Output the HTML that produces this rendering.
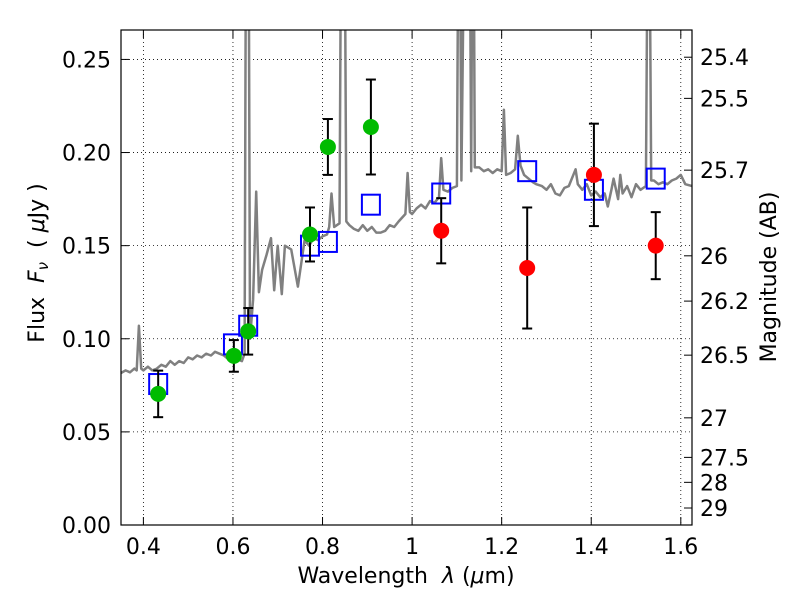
<!DOCTYPE html>
<html><head><meta charset="utf-8"><style>
body{margin:0;background:#fff}
svg{font-family:"DejaVu Sans","Liberation Sans",sans-serif;display:block}
text{white-space:pre}
</style></head><body>
<svg id="c" width="800" height="600" xmlns="http://www.w3.org/2000/svg">
<text x="406" y="583" font-size="22" text-anchor="middle">Wavelength&#160;&#160;<tspan font-style="italic">λ</tspan> (<tspan font-style="italic">μ</tspan>m)</text>
<text transform="translate(44,263) rotate(-90)" font-size="22" text-anchor="middle">Flux&#160;&#160;<tspan font-style="italic">F</tspan><tspan font-style="italic" font-size="15" dy="4">ν</tspan><tspan dy="-4">&#160;&#160;(&#160;</tspan><tspan font-style="italic">μ</tspan>Jy )</text>
<text transform="translate(776,277) rotate(-90)" font-size="22" text-anchor="middle">Magnitude (AB)</text>
</svg>
<script>
const xTicks=[0.4,0.6,0.8,1.0,1.2,1.4,1.6];
const xTickLabels=["0.4","0.6","0.8","1","1.2","1.4","1.6"];
const yTicks=[0,0.05,0.10,0.15,0.20,0.25];
const yTickLabels=["0.00","0.05","0.10","0.15","0.20","0.25"];
const magTicks=[25.4,25.5,25.7,26,26.2,26.5,27,27.5,28,29];
const magLabels=["25.4","25.5","25.7","26","26.2","26.5","27","27.5","28","29"];
const greenX=[0.433,0.602,0.634,0.772,0.812,0.908];
const greenY=[0.0704,0.0908,0.104,0.156,0.203,0.2137];
const greenErr=[0.0125,0.0085,0.0125,0.0145,0.015,0.0255];
const redX=[1.065,1.257,1.406,1.544];
const redY=[0.158,0.138,0.188,0.150];
const redErr=[0.0175,0.0325,0.0275,0.018];
const modelX=[0.433,0.600,0.634,0.772,0.812,0.908,1.065,1.257,1.406,1.544];
const modelY=[0.0757,0.097,0.107,0.150,0.152,0.172,0.178,0.190,0.180,0.186];
const specX=[0.35,0.36,0.37,0.38,0.385,0.39,0.395,0.40,0.41,0.42,0.43,0.44,0.45,0.46,0.47,0.48,0.49,0.50,0.51,0.52,0.53,0.54,0.551,0.56,0.57,0.58,0.59,0.60,0.61,0.62,0.626,0.630,0.634,0.638,0.645,0.652,0.658,0.665,0.675,0.685,0.692,0.70,0.709,0.716,0.73,0.745,0.76,0.77,0.78,0.79,0.80,0.81,0.815,0.82,0.826,0.838,0.843,0.848,0.853,0.86,0.87,0.88,0.89,0.90,0.91,0.92,0.93,0.94,0.95,0.96,0.97,0.985,0.99,0.995,1.0,1.01,1.02,1.03,1.04,1.05,1.06,1.065,1.07,1.08,1.09,1.10,1.105,1.11,1.12,1.127,1.132,1.136,1.14,1.15,1.16,1.17,1.18,1.19,1.2,1.205,1.21,1.22,1.23,1.236,1.242,1.25,1.26,1.27,1.277,1.29,1.30,1.31,1.32,1.33,1.34,1.35,1.365,1.37,1.38,1.39,1.40,1.41,1.42,1.43,1.437,1.445,1.45,1.46,1.465,1.47,1.48,1.49,1.50,1.51,1.522,1.528,1.534,1.54,1.55,1.56,1.57,1.58,1.59,1.60,1.61,1.625];
const specY=[0.0816,0.083,0.082,0.084,0.083,0.107,0.084,0.083,0.085,0.083,0.084,0.086,0.085,0.088,0.086,0.088,0.087,0.090,0.089,0.091,0.090,0.092,0.091,0.093,0.092,0.091,0.089,0.088,0.089,0.088,0.092,0.40,0.40,0.100,0.121,0.179,0.125,0.137,0.145,0.154,0.126,0.150,0.124,0.150,0.148,0.128,0.153,0.150,0.154,0.153,0.155,0.156,0.160,0.178,0.160,0.162,0.40,0.40,0.163,0.161,0.159,0.158,0.161,0.158,0.160,0.157,0.157,0.158,0.161,0.160,0.163,0.167,0.189,0.168,0.167,0.170,0.172,0.170,0.174,0.173,0.176,0.197,0.180,0.179,0.181,0.182,0.40,0.185,0.40,0.40,0.190,0.40,0.192,0.192,0.190,0.191,0.189,0.191,0.190,0.223,0.188,0.189,0.191,0.209,0.193,0.188,0.186,0.184,0.183,0.182,0.180,0.183,0.178,0.177,0.181,0.182,0.191,0.183,0.180,0.183,0.177,0.179,0.176,0.178,0.171,0.180,0.186,0.175,0.188,0.178,0.182,0.176,0.183,0.180,0.182,0.40,0.185,0.185,0.183,0.184,0.183,0.185,0.186,0.188,0.183,0.182];
const L=121,R=692,T=30,B=525,X0=0.35,X1=1.625,Y0=0,Y1=0.2658;
const sx=v=>L+(v-X0)/(X1-X0)*(R-L);
const sy=v=>B-(v-Y0)/(Y1-Y0)*(B-T);
const svg=document.getElementById('c');
const NS="http://www.w3.org/2000/svg";
function mk(t,a,p){const e=document.createElementNS(NS,t);for(const k in a)e.setAttribute(k,a[k]);(p||svg).appendChild(e);return e;}
const defs=mk('defs',{});const cp=mk('clipPath',{id:'cp'},defs);mk('rect',{x:L,y:T,width:R-L,height:B-T},cp);
const grid=mk('g',{});


xTicks.forEach(v=>mk('line',{x1:sx(v),x2:sx(v),y1:T,y2:B,stroke:'#000','stroke-width':0.8,'stroke-dasharray':'1,3'},grid));
yTicks.forEach(v=>mk('line',{x1:L,x2:R,y1:sy(v),y2:sy(v),stroke:'#000','stroke-width':0.8,'stroke-dasharray':'1,3'},grid));
const pts=specX.map((x,i)=>sx(x).toFixed(1)+','+sy(specY[i]).toFixed(1)).join(' ');
const sp=mk('polyline',{points:pts,fill:'none',stroke:'#808080','stroke-width':2.5,'clip-path':'url(#cp)','stroke-linejoin':'round'});


modelX.forEach((x,i)=>{const r=mk('rect',{x:sx(x)-9,y:sy(modelY[i])-10,width:18,height:20,fill:'none',stroke:'#0000ff','stroke-width':2});

});
function pts2(X,Y,E,col,name){X.forEach((x,i)=>{const g=mk('g',{});


const cx=sx(x),t=sy(Y[i]+E[i]),b=sy(Y[i]-E[i]);
mk('line',{x1:cx,x2:cx,y1:t,y2:b,stroke:'#000','stroke-width':2},g);
mk('line',{x1:cx-5,x2:cx+5,y1:t,y2:t,stroke:'#000','stroke-width':2},g);
mk('line',{x1:cx-5,x2:cx+5,y1:b,y2:b,stroke:'#000','stroke-width':2},g);
mk('circle',{cx:cx,cy:sy(Y[i]),r:8,fill:col},g);});}
pts2(greenX,greenY,greenErr,'#00bb00','hst-point');
pts2(redX,redY,redErr,'#ff0000','wfc3-point');
const fr=mk('rect',{x:L,y:T,width:R-L,height:B-T,fill:'none',stroke:'#000','stroke-width':1.2});


xTicks.forEach((v,i)=>{mk('line',{x1:sx(v),x2:sx(v),y1:B,y2:B-8,stroke:'#000'});mk('line',{x1:sx(v),x2:sx(v),y1:T,y2:T+8,stroke:'#000'});
const t=mk('text',{x:sx(v),y:B+29,'font-size':22,'text-anchor':'middle'});t.textContent=xTickLabels[i];

});
yTicks.forEach((v,i)=>{mk('line',{x1:L,x2:L+8,y1:sy(v),y2:sy(v),stroke:'#000'});
const t=mk('text',{x:L-10,y:sy(v)+8,'font-size':22,'text-anchor':'end'});t.textContent=yTickLabels[i];

});
magTicks.forEach((m,i)=>{const y=sy(Math.pow(10,(23.9-m)/2.5));mk('line',{x1:R,x2:R-8,y1:y,y2:y,stroke:'#000'});
const t=mk('text',{x:R+8,y:y+8,'font-size':22});t.textContent=magLabels[i];

});
</script>
</body></html>
